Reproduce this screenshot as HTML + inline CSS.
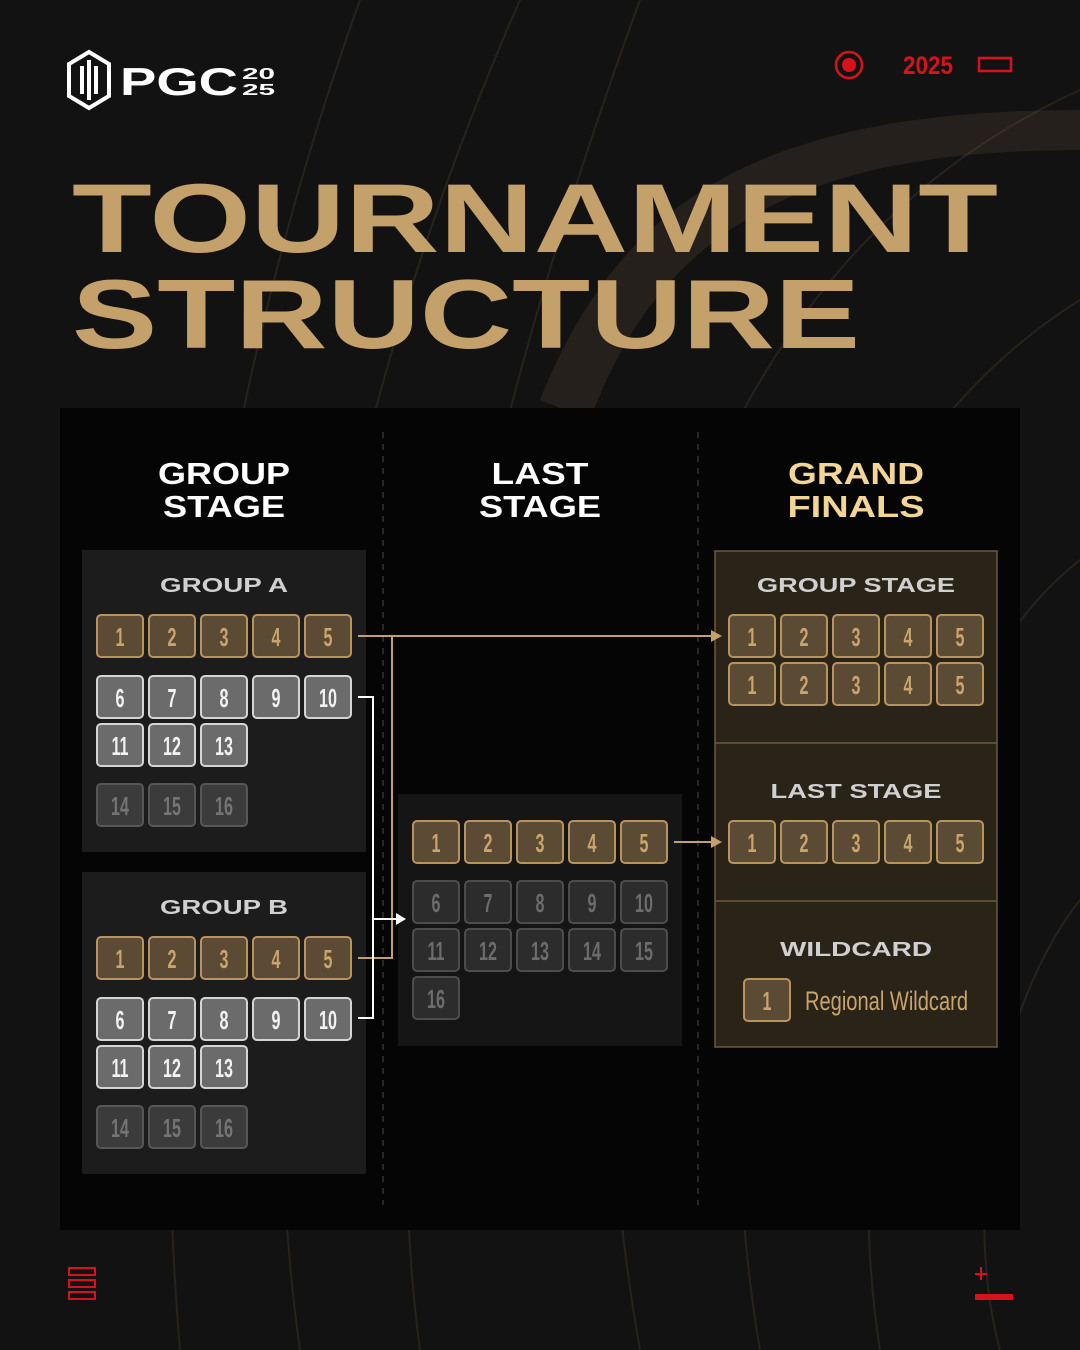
<!DOCTYPE html>
<html><head><meta charset="utf-8"><style>
html,body{margin:0;padding:0;background:#111;}
svg{display:block}
.n text{font-family:"Liberation Sans",sans-serif;font-weight:bold;font-size:26px;text-anchor:middle;transform-box:fill-box;transform-origin:center;transform:scaleX(0.62)}
.h{font-family:"Liberation Sans",sans-serif;font-weight:bold;text-anchor:middle}
.g rect{fill:#5b4b34;stroke:#b8935e;stroke-width:2}.g text{fill:#caa46c}
.w rect{fill:#6b6b6b;stroke:#d4d4d4;stroke-width:2}.w text{fill:#f2f2f2}
.d rect{fill:#3b3b3b;stroke:#575757;stroke-width:2}.d text{fill:#747474}
.e rect{fill:#2c2c2c;stroke:#4c4c4c;stroke-width:2}.e text{fill:#6c6c6c}
</style></head><body>
<svg width="1080" height="1350" viewBox="0 0 1080 1350" xmlns="http://www.w3.org/2000/svg">
<rect width="1080" height="1350" fill="#131212"/>
<g fill="none" stroke="#c4a06a" stroke-opacity="0.12" stroke-width="2">
<path d="M640 1350 C560 900 620 300 1080 90"/>
<path d="M760 1350 C700 1000 760 500 1080 300"/>
<path d="M880 1350 C840 1100 900 700 1080 560"/>
<path d="M300 1350 C250 1000 300 500 520 0"/>
<path d="M420 1350 C380 1050 420 600 640 0"/>
<path d="M180 1350 C150 1000 180 500 360 0"/>
<path d="M1000 1350 C960 1200 1000 1000 1080 900"/>
</g>
<path d="M540 400 C620 200 760 110 1080 110 L1080 150 C800 150 660 230 590 420Z" fill="#c4a06a" fill-opacity="0.1"/>
<!-- logo -->
<g fill="none" stroke="#fff" stroke-width="4">
<path d="M89 52 L109 64 L109 96 L89 108 L69 96 L69 64 Z"/>
<path d="M82 66 L82 94 M89 60 L89 100 M96 66 L96 94"/>
</g>
<text x="120" y="95" font-family="Liberation Sans" font-weight="bold" font-size="39" fill="#fff" textLength="118" lengthAdjust="spacingAndGlyphs">PGC</text>
<text x="242" y="79" font-family="Liberation Sans" font-weight="bold" font-size="16" fill="#fff" textLength="33" lengthAdjust="spacingAndGlyphs">20</text>
<text x="242" y="95" font-family="Liberation Sans" font-weight="bold" font-size="16" fill="#fff" textLength="33" lengthAdjust="spacingAndGlyphs">25</text>
<!-- top right -->
<circle cx="849" cy="65" r="13" fill="none" stroke="#d8121c" stroke-width="2.5"/>
<circle cx="849" cy="65" r="7" fill="#d8121c"/>
<text x="903" y="74" font-family="Liberation Sans" font-weight="bold" font-size="25" fill="#d8121c" textLength="50" lengthAdjust="spacingAndGlyphs">2025</text>
<rect x="979" y="58" width="32" height="13" fill="none" stroke="#d8121c" stroke-width="2.5"/>
<!-- title -->
<text x="72" y="252" font-family="Liberation Sans" font-weight="bold" font-size="98" fill="#c4a06a" textLength="926" lengthAdjust="spacingAndGlyphs">TOURNAMENT</text>
<text x="72" y="348" font-family="Liberation Sans" font-weight="bold" font-size="98" fill="#c4a06a" textLength="788" lengthAdjust="spacingAndGlyphs">STRUCTURE</text>
<!-- main panel -->
<rect x="60" y="408" width="960" height="822" fill="#050505"/>
<g stroke="#333" stroke-width="1.5" stroke-dasharray="6 6">
<line x1="383" y1="432" x2="383" y2="1205"/><line x1="698" y1="432" x2="698" y2="1205"/>
</g>
<g class="h" font-size="31" fill="#fff">
<text x="224" y="484" textLength="132" lengthAdjust="spacingAndGlyphs">GROUP</text>
<text x="224" y="517" textLength="122" lengthAdjust="spacingAndGlyphs">STAGE</text>
<text x="540" y="484" textLength="97" lengthAdjust="spacingAndGlyphs">LAST</text>
<text x="540" y="517" textLength="122" lengthAdjust="spacingAndGlyphs">STAGE</text>
<text x="856" y="484" fill="#f3d596" textLength="136" lengthAdjust="spacingAndGlyphs">GRAND</text>
<text x="856" y="517" fill="#f3d596" textLength="137" lengthAdjust="spacingAndGlyphs">FINALS</text>
</g>
<!-- panels -->
<rect x="82" y="550" width="284" height="302" fill="#1c1c1c"/>
<rect x="82" y="872" width="284" height="302" fill="#1c1c1c"/>
<rect x="398" y="794" width="284" height="252" fill="#151515"/>
<rect x="715" y="551" width="282" height="496" fill="#2a2318" stroke="#6e5a3c" stroke-width="1.5"/>
<line x1="715" y1="743" x2="997" y2="743" stroke="#6e5a3c" stroke-width="1.5"/>
<line x1="715" y1="901" x2="997" y2="901" stroke="#6e5a3c" stroke-width="1.5"/>
<g class="h" font-size="20" fill="#d0d0d0">
<text x="224" y="592" textLength="128" lengthAdjust="spacingAndGlyphs">GROUP A</text>
<text x="224" y="914" textLength="128" lengthAdjust="spacingAndGlyphs">GROUP B</text>
<text x="856" y="592" textLength="198" lengthAdjust="spacingAndGlyphs">GROUP STAGE</text>
<text x="856" y="798" textLength="171" lengthAdjust="spacingAndGlyphs">LAST STAGE</text>
<text x="856" y="956" textLength="152" lengthAdjust="spacingAndGlyphs">WILDCARD</text>
</g>
<g class="n">
<g class="g">
<rect x="97" y="615" width="46" height="42" rx="4"/><text x="120" y="646">1</text>
<rect x="149" y="615" width="46" height="42" rx="4"/><text x="172" y="646">2</text>
<rect x="201" y="615" width="46" height="42" rx="4"/><text x="224" y="646">3</text>
<rect x="253" y="615" width="46" height="42" rx="4"/><text x="276" y="646">4</text>
<rect x="305" y="615" width="46" height="42" rx="4"/><text x="328" y="646">5</text>
</g>
<g class="w">
<rect x="97" y="676" width="46" height="42" rx="4"/><text x="120" y="707">6</text>
<rect x="149" y="676" width="46" height="42" rx="4"/><text x="172" y="707">7</text>
<rect x="201" y="676" width="46" height="42" rx="4"/><text x="224" y="707">8</text>
<rect x="253" y="676" width="46" height="42" rx="4"/><text x="276" y="707">9</text>
<rect x="305" y="676" width="46" height="42" rx="4"/><text x="328" y="707">10</text>
<rect x="97" y="724" width="46" height="42" rx="4"/><text x="120" y="755">11</text>
<rect x="149" y="724" width="46" height="42" rx="4"/><text x="172" y="755">12</text>
<rect x="201" y="724" width="46" height="42" rx="4"/><text x="224" y="755">13</text>
</g>
<g class="d">
<rect x="97" y="784" width="46" height="42" rx="4"/><text x="120" y="815">14</text>
<rect x="149" y="784" width="46" height="42" rx="4"/><text x="172" y="815">15</text>
<rect x="201" y="784" width="46" height="42" rx="4"/><text x="224" y="815">16</text>
</g>
<g class="g">
<rect x="97" y="937" width="46" height="42" rx="4"/><text x="120" y="968">1</text>
<rect x="149" y="937" width="46" height="42" rx="4"/><text x="172" y="968">2</text>
<rect x="201" y="937" width="46" height="42" rx="4"/><text x="224" y="968">3</text>
<rect x="253" y="937" width="46" height="42" rx="4"/><text x="276" y="968">4</text>
<rect x="305" y="937" width="46" height="42" rx="4"/><text x="328" y="968">5</text>
</g>
<g class="w">
<rect x="97" y="998" width="46" height="42" rx="4"/><text x="120" y="1029">6</text>
<rect x="149" y="998" width="46" height="42" rx="4"/><text x="172" y="1029">7</text>
<rect x="201" y="998" width="46" height="42" rx="4"/><text x="224" y="1029">8</text>
<rect x="253" y="998" width="46" height="42" rx="4"/><text x="276" y="1029">9</text>
<rect x="305" y="998" width="46" height="42" rx="4"/><text x="328" y="1029">10</text>
<rect x="97" y="1046" width="46" height="42" rx="4"/><text x="120" y="1077">11</text>
<rect x="149" y="1046" width="46" height="42" rx="4"/><text x="172" y="1077">12</text>
<rect x="201" y="1046" width="46" height="42" rx="4"/><text x="224" y="1077">13</text>
</g>
<g class="d">
<rect x="97" y="1106" width="46" height="42" rx="4"/><text x="120" y="1137">14</text>
<rect x="149" y="1106" width="46" height="42" rx="4"/><text x="172" y="1137">15</text>
<rect x="201" y="1106" width="46" height="42" rx="4"/><text x="224" y="1137">16</text>
</g>
<g class="g">
<rect x="413" y="821" width="46" height="42" rx="4"/><text x="436" y="852">1</text>
<rect x="465" y="821" width="46" height="42" rx="4"/><text x="488" y="852">2</text>
<rect x="517" y="821" width="46" height="42" rx="4"/><text x="540" y="852">3</text>
<rect x="569" y="821" width="46" height="42" rx="4"/><text x="592" y="852">4</text>
<rect x="621" y="821" width="46" height="42" rx="4"/><text x="644" y="852">5</text>
</g>
<g class="e">
<rect x="413" y="881" width="46" height="42" rx="4"/><text x="436" y="912">6</text>
<rect x="465" y="881" width="46" height="42" rx="4"/><text x="488" y="912">7</text>
<rect x="517" y="881" width="46" height="42" rx="4"/><text x="540" y="912">8</text>
<rect x="569" y="881" width="46" height="42" rx="4"/><text x="592" y="912">9</text>
<rect x="621" y="881" width="46" height="42" rx="4"/><text x="644" y="912">10</text>
<rect x="413" y="929" width="46" height="42" rx="4"/><text x="436" y="960">11</text>
<rect x="465" y="929" width="46" height="42" rx="4"/><text x="488" y="960">12</text>
<rect x="517" y="929" width="46" height="42" rx="4"/><text x="540" y="960">13</text>
<rect x="569" y="929" width="46" height="42" rx="4"/><text x="592" y="960">14</text>
<rect x="621" y="929" width="46" height="42" rx="4"/><text x="644" y="960">15</text>
<rect x="413" y="977" width="46" height="42" rx="4"/><text x="436" y="1008">16</text>
</g>
<g class="g">
<rect x="729" y="615" width="46" height="42" rx="4"/><text x="752" y="646">1</text>
<rect x="781" y="615" width="46" height="42" rx="4"/><text x="804" y="646">2</text>
<rect x="833" y="615" width="46" height="42" rx="4"/><text x="856" y="646">3</text>
<rect x="885" y="615" width="46" height="42" rx="4"/><text x="908" y="646">4</text>
<rect x="937" y="615" width="46" height="42" rx="4"/><text x="960" y="646">5</text>
<rect x="729" y="663" width="46" height="42" rx="4"/><text x="752" y="694">1</text>
<rect x="781" y="663" width="46" height="42" rx="4"/><text x="804" y="694">2</text>
<rect x="833" y="663" width="46" height="42" rx="4"/><text x="856" y="694">3</text>
<rect x="885" y="663" width="46" height="42" rx="4"/><text x="908" y="694">4</text>
<rect x="937" y="663" width="46" height="42" rx="4"/><text x="960" y="694">5</text>
<rect x="729" y="821" width="46" height="42" rx="4"/><text x="752" y="852">1</text>
<rect x="781" y="821" width="46" height="42" rx="4"/><text x="804" y="852">2</text>
<rect x="833" y="821" width="46" height="42" rx="4"/><text x="856" y="852">3</text>
<rect x="885" y="821" width="46" height="42" rx="4"/><text x="908" y="852">4</text>
<rect x="937" y="821" width="46" height="42" rx="4"/><text x="960" y="852">5</text>
<rect x="744" y="979" width="46" height="42" rx="4"/><text x="767" y="1010">1</text>
</g>
</g>
<text x="805" y="1010" font-family="Liberation Sans" font-size="27" fill="#c9a46c" textLength="163" lengthAdjust="spacingAndGlyphs">Regional Wildcard</text>
<g fill="none" stroke-width="2">
<path d="M358 636 H712 M392 636 V958 H358" stroke="#c4a06a"/>
<path d="M674 842 H712" stroke="#c4a06a"/>
<path d="M358 697 H373 V1018 H358 M373 919 H397" stroke="#fff"/>
</g>
<path d="M722 636 L711 630 L711 642Z M722 842 L711 836 L711 848Z" fill="#c4a06a"/>
<path d="M406 919 L396 913 L396 925Z" fill="#fff"/>
<g fill="none" stroke="#d8121c" stroke-width="2">
<rect x="69" y="1268" width="26" height="7"/><rect x="69" y="1280" width="26" height="7"/><rect x="69" y="1292" width="26" height="7"/>
</g>
<path d="M981 1267 V1280 M975 1274 H987" stroke="#d8121c" stroke-width="2"/>
<rect x="975" y="1294" width="38" height="6" fill="#d8121c"/>
</svg>
</body></html>
